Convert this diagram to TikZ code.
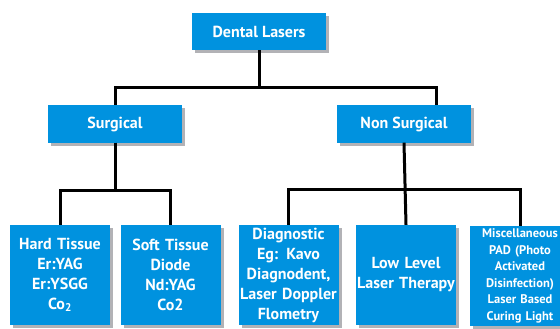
\documentclass[tikz,border=0pt]{standalone}
\usepackage{fontspec}
\setmainfont{PT Sans}
\usetikzlibrary{shadows}
\definecolor{laserblue}{RGB}{0,146,223}
\definecolor{shadowgray}{RGB}{178,178,182}

\begin{document}
\begin{tikzpicture}[x=1pt,y=-1pt,
    box/.style={fill=laserblue,text=white,align=center,inner sep=0pt,
      font=\bfseries\fontsize{16}{20}\selectfont,
      drop shadow={shadow xshift=3pt,shadow yshift=-3pt,fill=shadowgray,opacity=1}},
    topbox/.style={box,minimum width=134pt,minimum height=37pt},
    leafbox/.style={box,text width=100pt,minimum height=100pt},
    link/.style={line width=3pt}]
            \useasboundingbox (0,0) rectangle (560,329);

            \node[topbox] (dental) at (259,31.5) {Dental Lasers};
            \node[topbox] (surg) at (115,124) {Surgical};
            \node[topbox] (nonsurg) at (404,124) {Non Surgical};

            \node[leafbox] (hard) at (60,275) {Hard Tissue\\Er:YAG\\Er:YSGG\\Co\textsubscript{2}};
            \node[leafbox] (soft) at (170.5,275) {Soft Tissue\\Diode\\Nd:YAG\\Co2};
            \node[leafbox] (diag) at (288.5,275) {Diagnostic\\Eg: Kavo\\Diagnodent,\\Laser Doppler\\Flometry};
            \node[leafbox] (low) at (406,275) {Low Level\\Laser Therapy};
            \node[leafbox,font=\bfseries\fontsize{12.5}{16.5}\selectfont] (misc) at (520,276) {Miscellaneous\\PAD (Photo\\Activated\\Disinfection)\\Laser Based\\Curing Light};

            \draw[link] (dental.south) -- ++(0,37) -| (surg.north);
            \draw[link] (dental.south) -- ++(0,37) -| ([xshift=32pt]nonsurg.north);
            \draw[link] (surg.south) -- ++(0,48) -| (hard.north);
            \draw[link] (surg.south) -- ++(0,48) -| (soft.north);
            \draw[link] (nonsurg.south) -- (low.north);
            \draw[link] (diag.north) -- ++(0,-35) -| (misc.north);
        \end{tikzpicture}
\end{document}
